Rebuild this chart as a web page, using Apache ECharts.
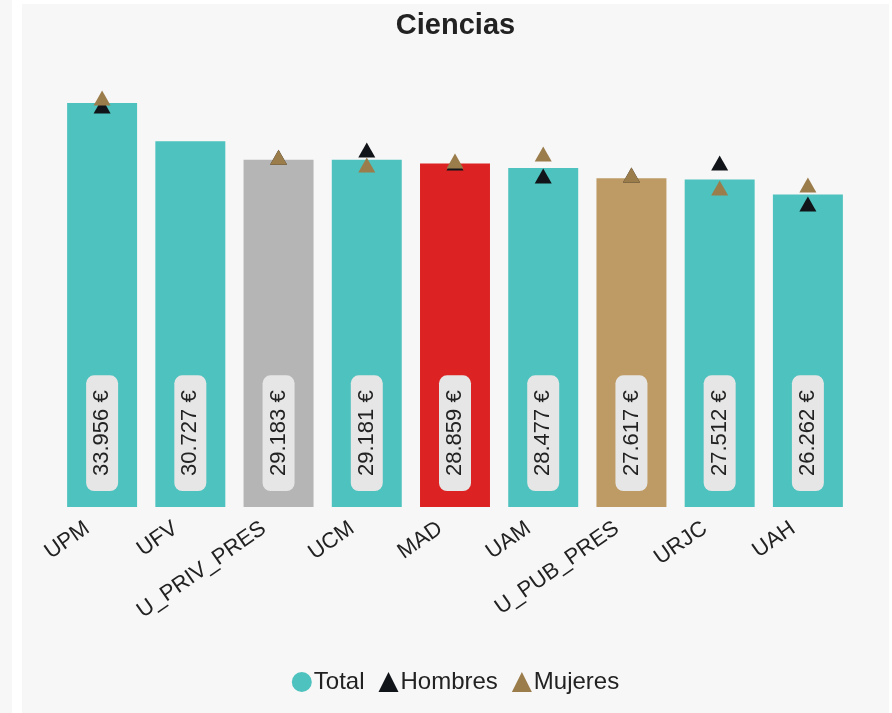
<!DOCTYPE html>
<html><head><meta charset="utf-8">
<script src="https://cdn.jsdelivr.net/npm/echarts@6/dist/echarts.min.js"></script>
<style>
html,body{margin:0;padding:0;background:#fff;width:892px;height:713px;overflow:hidden;}
#strip{position:absolute;left:0;top:0;width:12px;height:713px;background:#f7f7f7;}
#c{position:absolute;left:22px;top:4px;width:867px;height:709px;background:#f7f7f7;}
</style></head><body>
<div id="strip"></div>
<div id="c"></div>
<script>
const categories = ['UPM','UFV','U_PRIV_PRES','UCM','MAD','UAM','U_PUB_PRES','URJC','UAH'];
const totalValues = [33956, 30727, 29183, 29181, 28859, 28477, 27617, 27512, 26262];
const hombresValues = [33700, null, 29400, 30000, 28900, 27810, 27900, 28900, 25460];
const mujeresValues = [34370, null, 29400, 28740, 29080, 29660, 27900, 26800, 27060];

const baseColor = '#4dc2be';
const highlight = {'U_PRIV_PRES':'#b5b5b5','MAD':'#dc2222','U_PUB_PRES':'#be9b65'};
const fmt = v => v.toString().replace(/\B(?=(\d{3})+(?!\d))/g, '.') + ' €';
const FF = 'Liberation Sans, Arial, sans-serif';

const chart = echarts.init(document.getElementById('c'));
chart.setOption({
  backgroundColor: '#f7f7f7',
  animation: false,
  textStyle: {fontFamily: FF},
  title: {text: 'Ciencias', left: 'center', top: 2,
    textStyle: {fontSize: 29, fontWeight: 'bold', color: '#222', fontFamily: FF}},
  legend: {bottom: 14, left: 'center', itemGap: 14, itemWidth: 20, itemHeight: 20,
    textStyle: {fontSize: 24, color: '#222', padding: [0,0,0,-3], fontFamily: FF},
    data: [{name:'Total', icon:'circle', itemStyle:{color: baseColor}},
           {name:'Hombres', icon:'triangle'}, {name:'Mujeres', icon:'triangle'}]},
  grid: {left: 36, right: 37, top: 27, bottom: 206, containLabel: false},
  xAxis: {type: 'category', data: categories,
    axisLine: {show: false}, axisTick: {show: false},
    axisLabel: {rotate: 35, fontSize: 22, color: '#222', margin: 9, interval: 0, fontFamily: FF,
      padding: [0, 18, 0, 0]}},
  yAxis: {type: 'value', min: 0, max: 40000, show: false, splitLine: {show: false}},
  series: [
    {name: 'Total', type: 'bar', barCategoryGap: '20.7%',
      data: totalValues.map((v,i) => ({value: v, itemStyle: {color: highlight[categories[i]] || baseColor}})),
      label: {show: true, position: 'insideBottom', rotate: 90, distance: 16,
        formatter: p => fmt(p.value), fontSize: 22, color: '#222', fontFamily: FF, lineHeight: 22,
        backgroundColor: '#e6e6e6', borderRadius: 8, padding: [5, 15, 5, 15], align: 'left', verticalAlign: 'middle'}},
    {name: 'Hombres', type: 'scatter', symbol: 'triangle', symbolSize: [17, 15],
      itemStyle: {color: '#111418', opacity: 1}, data: hombresValues, z: 3},
    {name: 'Mujeres', type: 'scatter', symbol: 'triangle', symbolSize: [17, 15],
      itemStyle: {color: '#9b7d4c', opacity: 1}, data: mujeresValues, z: 4}
  ]
});
</script></body></html>
